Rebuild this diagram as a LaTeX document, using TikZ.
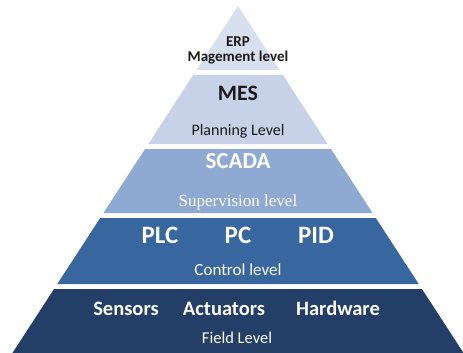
\documentclass[tikz,border=0pt]{standalone}
\usepackage{fontspec}
\setmainfont{Carlito}
\newfontfamily\supfont{Liberation Serif}
\definecolor{erpblock}{HTML}{D8DFEE}
\definecolor{mesblock}{HTML}{C7D2E8}
\definecolor{scadablock}{HTML}{8FAAD2}
\definecolor{ctrlblock}{HTML}{38669F}
\definecolor{fieldblock}{HTML}{233F68}
\definecolor{darktext}{HTML}{1A1A1A}
\tikzset{
  lvlname/.style={anchor=base, inner sep=0pt, font=\bfseries\fontsize{#1}{#1}\selectfont},
  lvltext/.style={anchor=base, inner sep=0pt, font=\fontsize{#1}{#1}\selectfont},
}

\begin{document}
\begin{tikzpicture}[x=1pt, y=-1pt]
	\def\cx{238}
	\def\ay{6}
	\def\slope{0.65}
	\useasboundingbox (0,0) rectangle (463,353);
	% the five layers: top / bottom / colour
	\foreach \ya/\yb/\col in {6/70/erpblock, 75/144/mesblock, 149/213/scadablock, 218/284/ctrlblock, 289/353/fieldblock}{
		\pgfmathsetmacro\wa{\slope*(\ya-\ay)}
		\pgfmathsetmacro\wb{\slope*(\yb-\ay)}
		\fill[\col] (\cx-\wa,\ya) -- (\cx+\wa,\ya) -- (\cx+\wb,\yb) -- (\cx-\wb,\yb) -- cycle;
	}

	% ERP
	\node[lvlname=15, darktext] (erp) at (\cx,47) {ERP};
	\node[lvlname=15, darktext] (mgmt) at (\cx,62) {Magement level};
	% MES
	\node[lvlname=22, darktext] (mes) at (\cx,100) {MES};
	\node[lvltext=16, darktext] (plan) at (\cx,135) {Planning Level};
	% SCADA
	\node[lvlname=23, white] (scada) at (\cx,168) {SCADA};
	\node[anchor=base, inner sep=0pt, white, font=\supfont\fontsize{17}{17}\selectfont] (superv) at (\cx,206) {Supervision level};
	% control
	\node[lvlname=25, white] (plc) at (160,243) {PLC};
	\node[lvlname=25, white] (pc) at (238,243) {PC};
	\node[lvlname=25, white] (pid) at (316,243) {PID};
	\node[lvltext=17, white] (ctrl) at (\cx,275) {Control level};
	% field
	\node[lvlname=20.5, white] (sens) at (126,315) {Sensors};
	\node[lvlname=20.5, white] (act) at (224,315) {Actuators};
	\node[lvlname=20.5, white] (hw) at (338,315) {Hardware};
	\node[lvltext=16.5, white] (field) at (237,343) {Field Level};
\end{tikzpicture}
\end{document}
